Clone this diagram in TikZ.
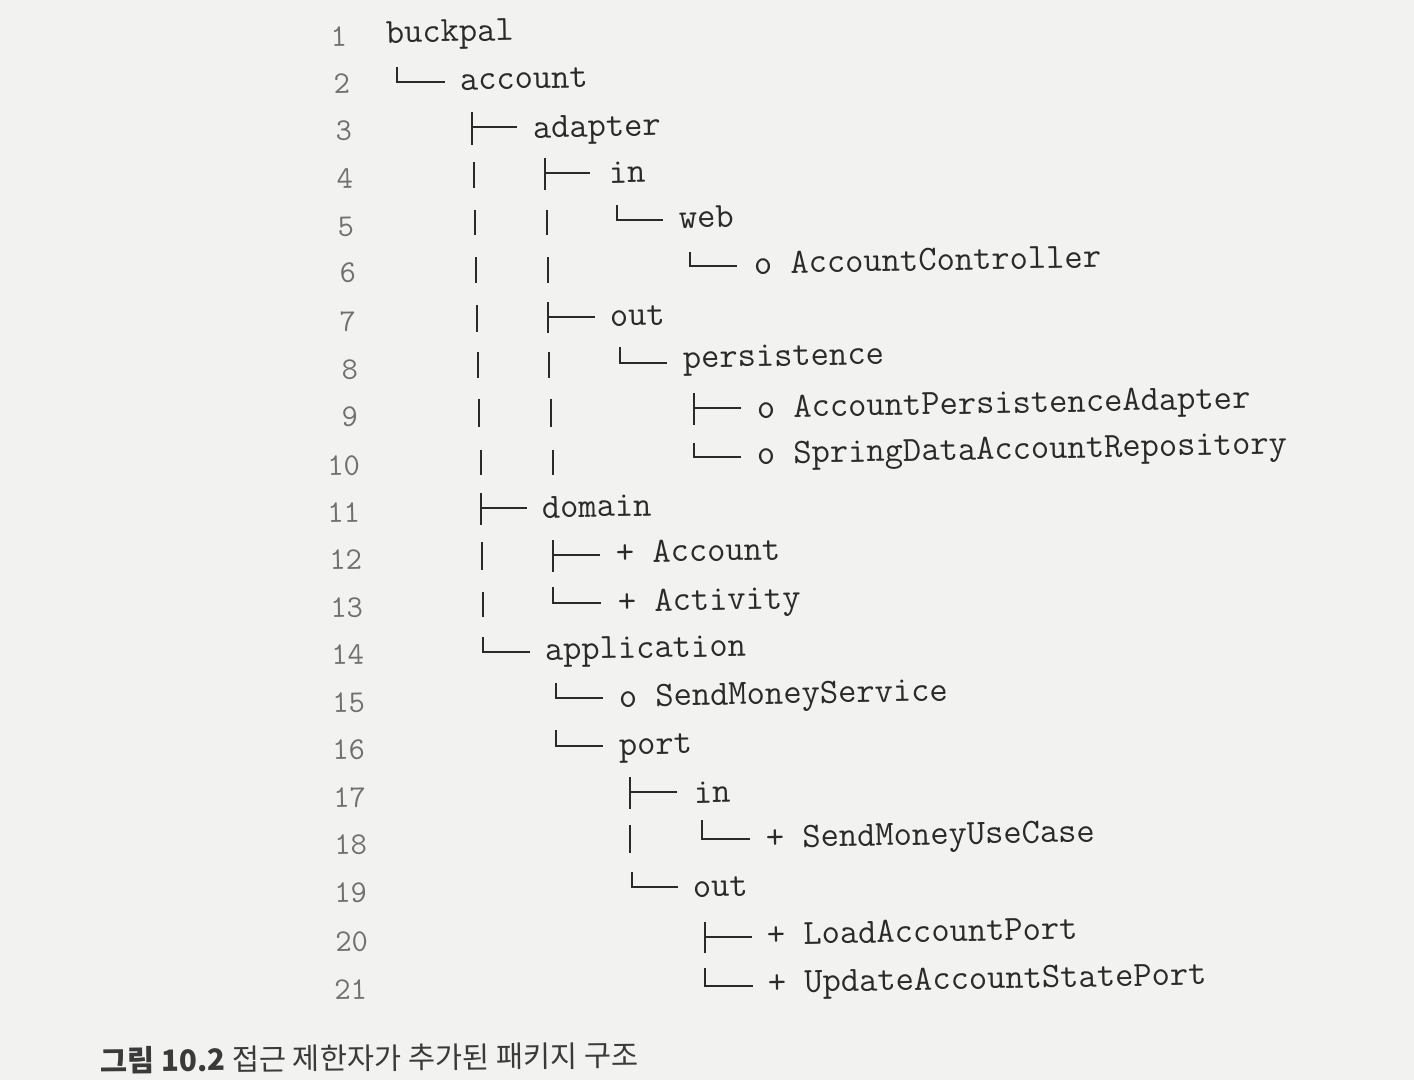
\documentclass[tikz,border=0pt]{standalone}
\usepackage{fontspec}
\newfontfamily\krfont{Noto Sans CJK KR}
\definecolor{paper}{HTML}{F2F2F0}
\definecolor{ink}{HTML}{2A2A2A}
\definecolor{numgray}{HTML}{707070}
\definecolor{capink}{HTML}{3A3A3A}
\newcommand\codefont{\ttfamily\fontsize{35.5}{40}\selectfont}
\newcommand\lnofont{\ttfamily\fontsize{31.5}{36}\selectfont}
\newcommand\treeT[5]{\draw[tree] (#1,#2) -- (#1,#4) (#1,#3) -- (#5,#3);}
\newcommand\treeL[4]{\draw[tree] (#1,#2) |- (#4,#3);}
\newcommand\treeI[3]{\draw[tree] (#1,#2) -- (#1,#3);}
\begin{document}
\begin{tikzpicture}[x=1pt,y=-1pt,
  code/.style={anchor=base west, inner sep=0pt, outer sep=0pt, font=\codefont, text=ink, rotate=1.1},
  lno/.style={anchor=base east, inner sep=0pt, outer sep=0pt, font=\lnofont, text=numgray, rotate=1.1},
  tree/.style={draw=ink, line width=2.2pt, line join=miter},
  caption/.style={anchor=base west, inner sep=0pt, text=capink, rotate=0.6}]
\fill[paper] (0,0) rectangle (1414,1080);
\useasboundingbox (0,0) rectangle (1414,1080);

% line numbers
\node[lno] (l1)  at (347,46)  {1};
\node[lno] (l2)  at (350,93)  {2};
\node[lno] (l3)  at (352,140) {3};
\node[lno] (l4)  at (353,188) {4};
\node[lno] (l5)  at (354,236) {5};
\node[lno] (l6)  at (356,282) {6};
\node[lno] (l7)  at (356,331) {7};
\node[lno] (l8)  at (358,379) {8};
\node[lno] (l9)  at (358,426) {9};
\node[lno] (l10) at (360,475) {10};
\node[lno] (l11) at (360,522) {11};
\node[lno] (l12) at (362,569) {12};
\node[lno] (l13) at (363,617) {13};
\node[lno] (l14) at (364,664) {14};
\node[lno] (l15) at (365,712) {15};
\node[lno] (l16) at (365,759) {16};
\node[lno] (l17) at (366,807) {17};
\node[lno] (l18) at (367,854) {18};
\node[lno] (l19) at (367,902) {19};
\node[lno] (l20) at (368,951) {20};
\node[lno] (l21) at (367,999) {21};

% entries
\node[code] (n1)  at (386,43)  {buckpal};
\node[code] (n2)  at (460,90)  {account};
\node[code] (n3)  at (533,138) {adapter};
\node[code] (n4)  at (609,183) {in};
\node[code] (n5)  at (679,228) {web};
\node[code] (n6)  at (754,274) {o AccountController};
\node[code] (n7)  at (610,326) {out};
\node[code] (n8)  at (683,368) {persistence};
\node[code] (n9)  at (757,418) {o AccountPersistenceAdapter};
\node[code] (n10) at (757,464) {o SpringDataAccountRepository};
\node[code] (n11) at (542,518) {domain};
\node[code] (n12) at (616,563) {+ Account};
\node[code] (n13) at (618,612) {+ Activity};
\node[code] (n14) at (545,660) {application};
\node[code] (n15) at (619,707) {o SendMoneyService};
\node[code] (n16) at (619,755) {port};
\node[code] (n17) at (694,803) {in};
\node[code] (n18) at (766,848) {+ SendMoneyUseCase};
\node[code] (n19) at (693,897) {out};
\node[code] (n20) at (767,945) {+ LoadAccountPort};
\node[code] (n21) at (768,993) {+ UpdateAccountStatePort};

% tree glyphs
\treeL{397}{67}{82}{445}
\treeT{472}{112}{127}{145}{517}
\treeI{474}{162}{188}
\treeT{545}{158}{173}{190}{590}
\treeI{475}{210}{235}
\treeI{547}{210}{235}
\treeL{617}{205}{220}{663}
\treeI{476}{257}{283}
\treeI{548}{257}{283}
\treeL{690}{252}{266}{737}
\treeI{477}{305}{332}
\treeT{548}{302}{317}{333}{595}
\treeI{478}{352}{378}
\treeI{549}{352}{378}
\treeL{620}{347}{363}{667}
\treeI{479}{399}{427}
\treeI{551}{399}{427}
\treeT{694}{393}{408}{425}{741}
\treeI{481}{450}{475}
\treeI{553}{450}{475}
\treeL{694}{443}{457}{741}
\treeT{481}{493}{508}{525}{527}
\treeI{482}{542}{570}
\treeT{553}{540}{555}{572}{600}
\treeI{483}{592}{617}
\treeL{553}{587}{603}{601}
\treeL{483}{637}{652}{530}
\treeL{556}{683}{698}{603}
\treeL{556}{730}{746}{603}
\treeT{630}{777}{792}{809}{677}
\treeI{630}{825}{853}
\treeL{702}{820}{839}{750}
\treeL{632}{872}{887}{678}
\treeT{705}{922}{937}{953}{752}
\treeL{705}{968}{986}{753}

% caption
\node[caption] (cap) at (100,1072)
  {\krfont\fontsize{29.5}{34}\selectfont\textbf{그림 10.2} 접근 제한자가 추가된 패키지 구조};
\end{tikzpicture}
\end{document}
